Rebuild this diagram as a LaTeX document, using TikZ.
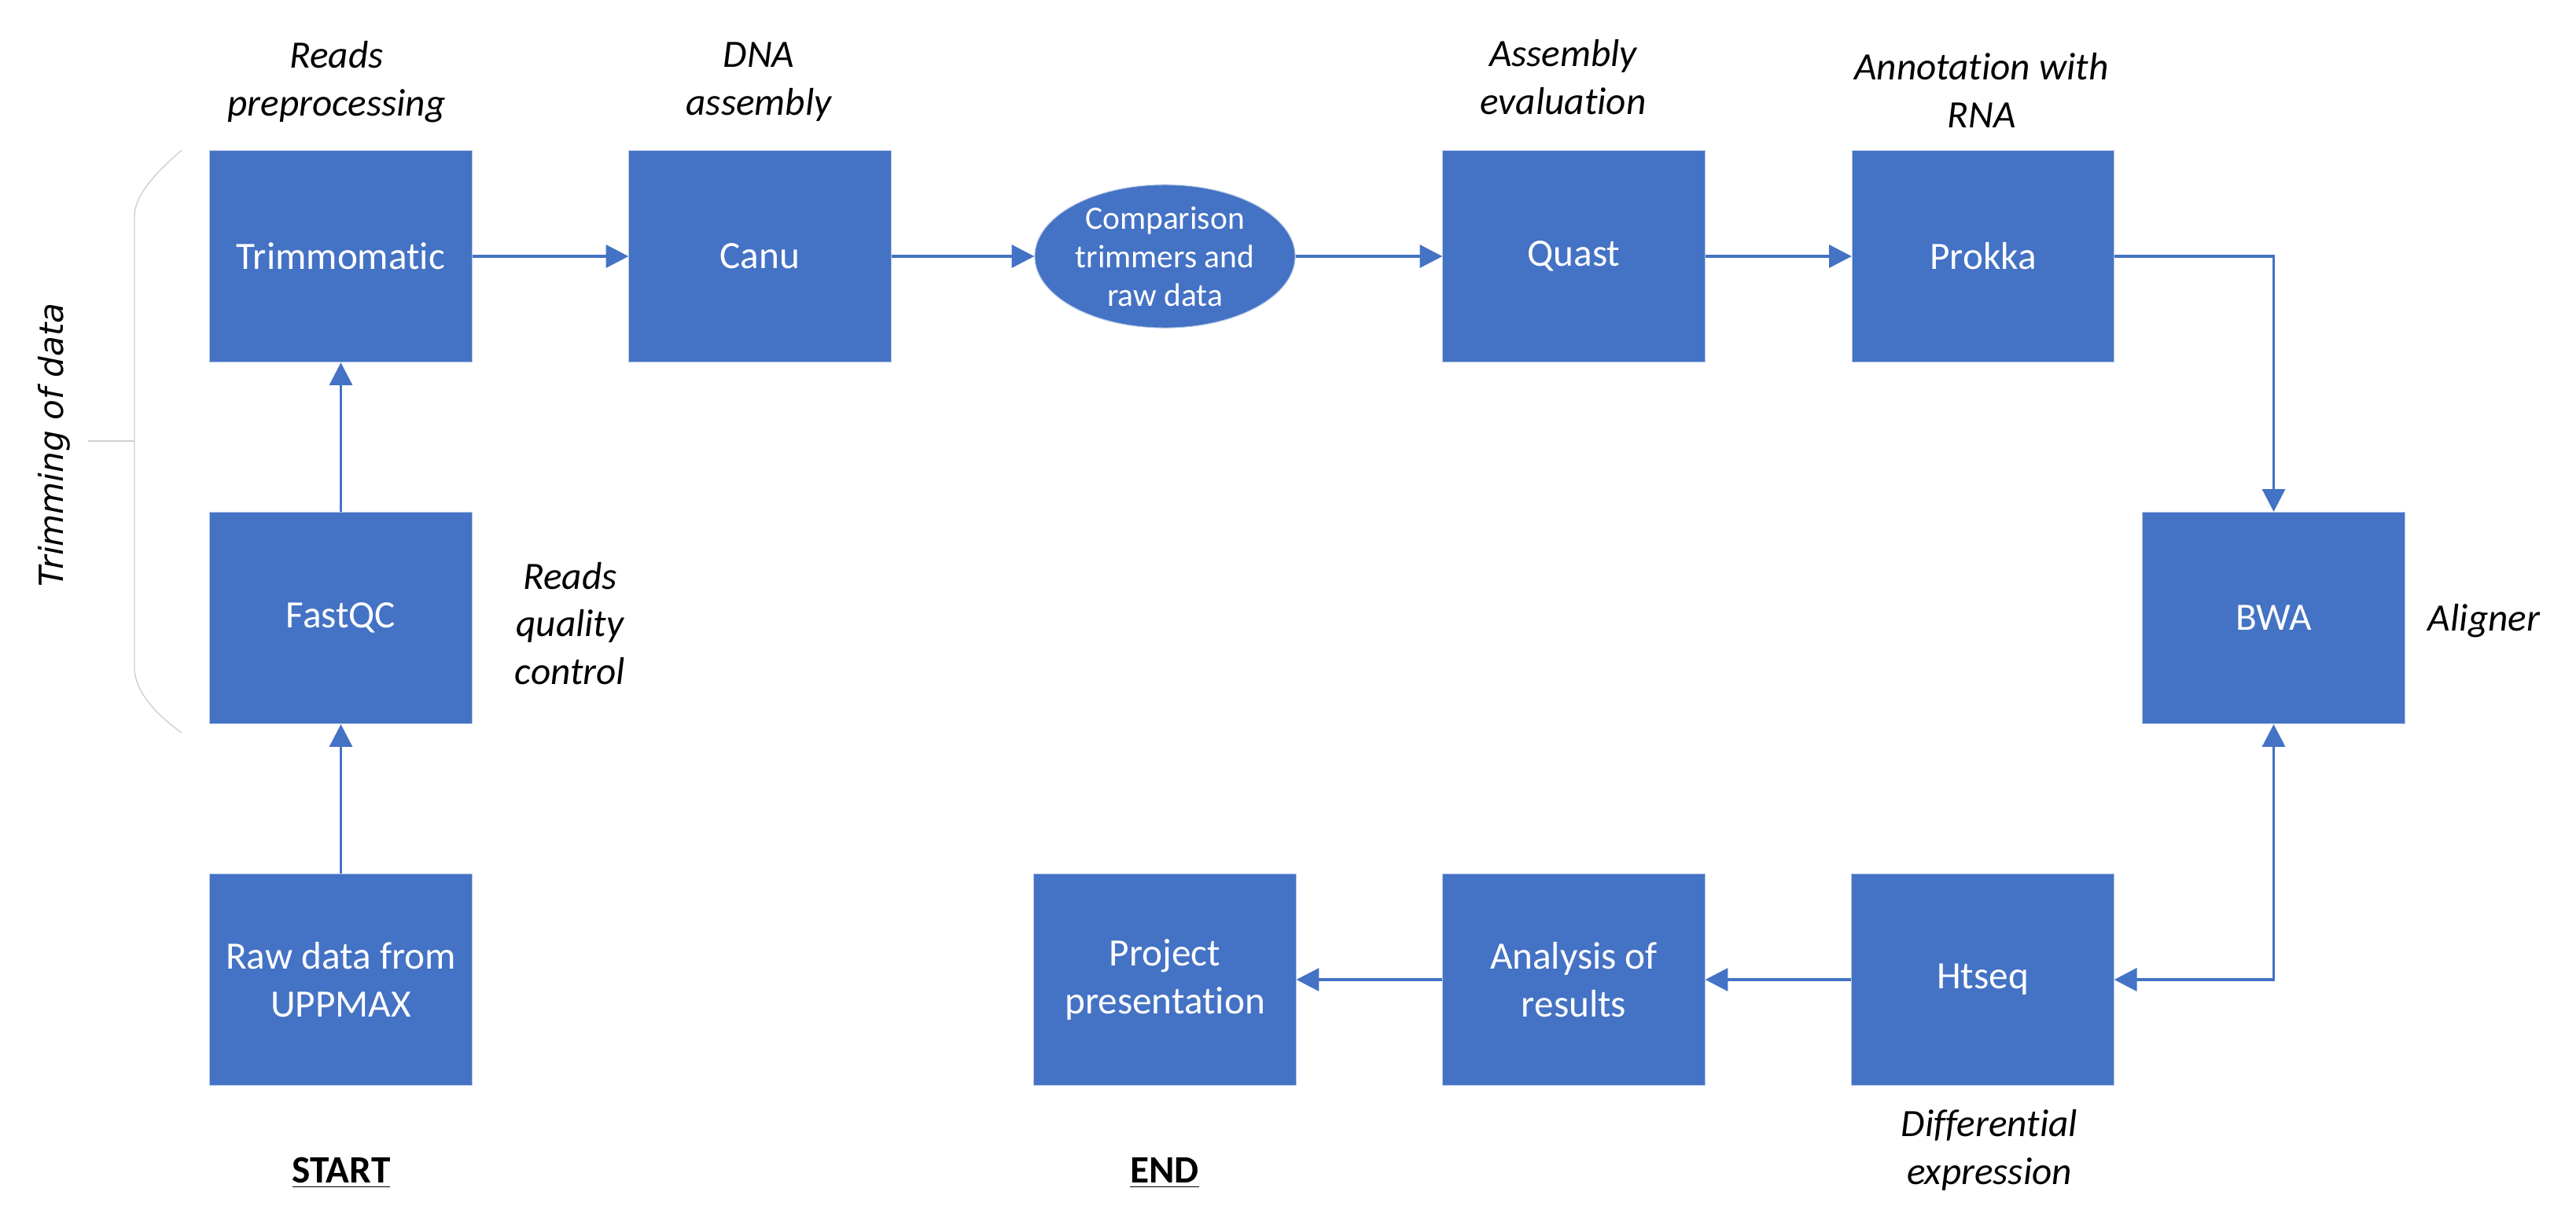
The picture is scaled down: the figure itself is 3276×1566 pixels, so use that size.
\documentclass[tikz,border=0pt]{standalone}
\usepackage{fontspec}
\setmainfont[Ligatures=NoCommon]{Carlito}
\newfontfamily\sidefont{DejaVu Sans}
\usepackage{xcolor}
\usepackage{tikz}
\usetikzlibrary{arrows.meta}
\usetikzlibrary{shapes.geometric}
\definecolor{stepblue}{HTML}{4472C4}
\definecolor{stepedge}{HTML}{B4C7E7}
\definecolor{braceg}{HTML}{D0D0D0}
\tikzset{
  stepbox/.style={
    rectangle, fill=stepblue, draw=stepedge, line width=0.3pt,
    minimum width=3.33cm, minimum height=2.69cm,
    text=white, align=center, inner sep=0pt,
    font=\fontsize{14}{17.3}\selectfont
  },
  stepoval/.style={
    ellipse, fill=stepblue, draw=stepedge, line width=0.3pt,
    minimum width=3.31cm, minimum height=1.82cm,
    text=white, align=center, inner sep=0pt,
    font=\fontsize{11.8}{13.9}\selectfont
  },
  note/.style={
    align=center, inner sep=0pt,
    font=\fontsize{14}{17.3}\selectfont\itshape
  },
  flow/.style={
    draw=stepblue, line width=1.1pt,
    -{Triangle[length=8.2pt,width=8.2pt]}
  }
}

\begin{document}
\begin{tikzpicture}[x=0.01cm,y=-0.01cm]
		\useasboundingbox (0,0) rectangle (3276,1566);
		% steps
		\node[stepbox] (trim) at (433.5,326) {Trimmomatic};
		\node[stepbox] (canu) at (966.5,326) {Canu};
		\node[stepoval] (comp) at (1481.5,326) {Comparison\\trimmers and\\raw data};
		\node[stepbox] (quast) at (2001.5,326) {Quast};
		\node[stepbox] (prokka) at (2522,326) {Prokka};
		\node[stepbox] (fastqc) at (433.5,786) {FastQC};
		\node[stepbox] (bwa) at (2891.5,786) {BWA};
		\node[stepbox] (raw) at (433.5,1246) {Raw data from\\UPPMAX};
		\node[stepbox] (proj) at (1481.5,1246) {Project\\presentation};
		\node[stepbox] (analysis) at (2001.5,1246) {Analysis of\\results};
		\node[stepbox] (htseq) at (2521.5,1246) {Htseq};
		%
		\draw[flow] (raw) -- (fastqc);
		\draw[flow] (fastqc) -- (trim);
		\draw[flow] (trim) -- (canu);
		\draw[flow] (canu) -- (comp);
		\draw[flow] (comp) -- (quast);
		\draw[flow] (quast) -- (prokka);
		\draw[flow] (prokka.east) -| (bwa.north);
		\draw[flow, {Triangle[length=8.2pt,width=8.2pt]}-{Triangle[length=8.2pt,width=8.2pt]}] (bwa.south) |- (htseq.east);
		\draw[flow] (htseq) -- (analysis);
		\draw[flow] (analysis) -- (proj);
		% notes
		\node[note] (n1) at (428,104) {Reads\\preprocessing};
		\node[note] (n2) at (965,104) {DNA\\assembly};
		\node[note] (n3) at (1988,98) {Assembly\\evaluation};
		\node[note] (n4) at (2520,115) {Annotation with\\RNA};
		\node[note] (n5) at (725,793) {Reads\\quality\\control};
		\node[note] (n6) at (3159,790) {Aligner};
		\node[note] (n7) at (2530,1463) {Differential\\expression};
		\node[note, font=\fontsize{14}{17.3}\selectfont\bfseries] (start) at (434,1492) {\underline{START}};
		\node[note, font=\fontsize{14}{17.3}\selectfont\bfseries] (end) at (1481,1492) {\underline{END}};
		%
		\draw[braceg, line width=0.4pt] (231,191) .. controls (195,222) and (171,250) .. (171,275) -- (171,849) .. controls (171,880) and (200,910) .. (231,932);
		\draw[braceg, line width=0.4pt] (112,561) -- (171,561);
		\node[rotate=90, inner sep=0pt, font=\sidefont\fontsize{12}{14}\selectfont\itshape] (side) at (69,566) {Trimming of data};
	\end{tikzpicture}
\end{document}
